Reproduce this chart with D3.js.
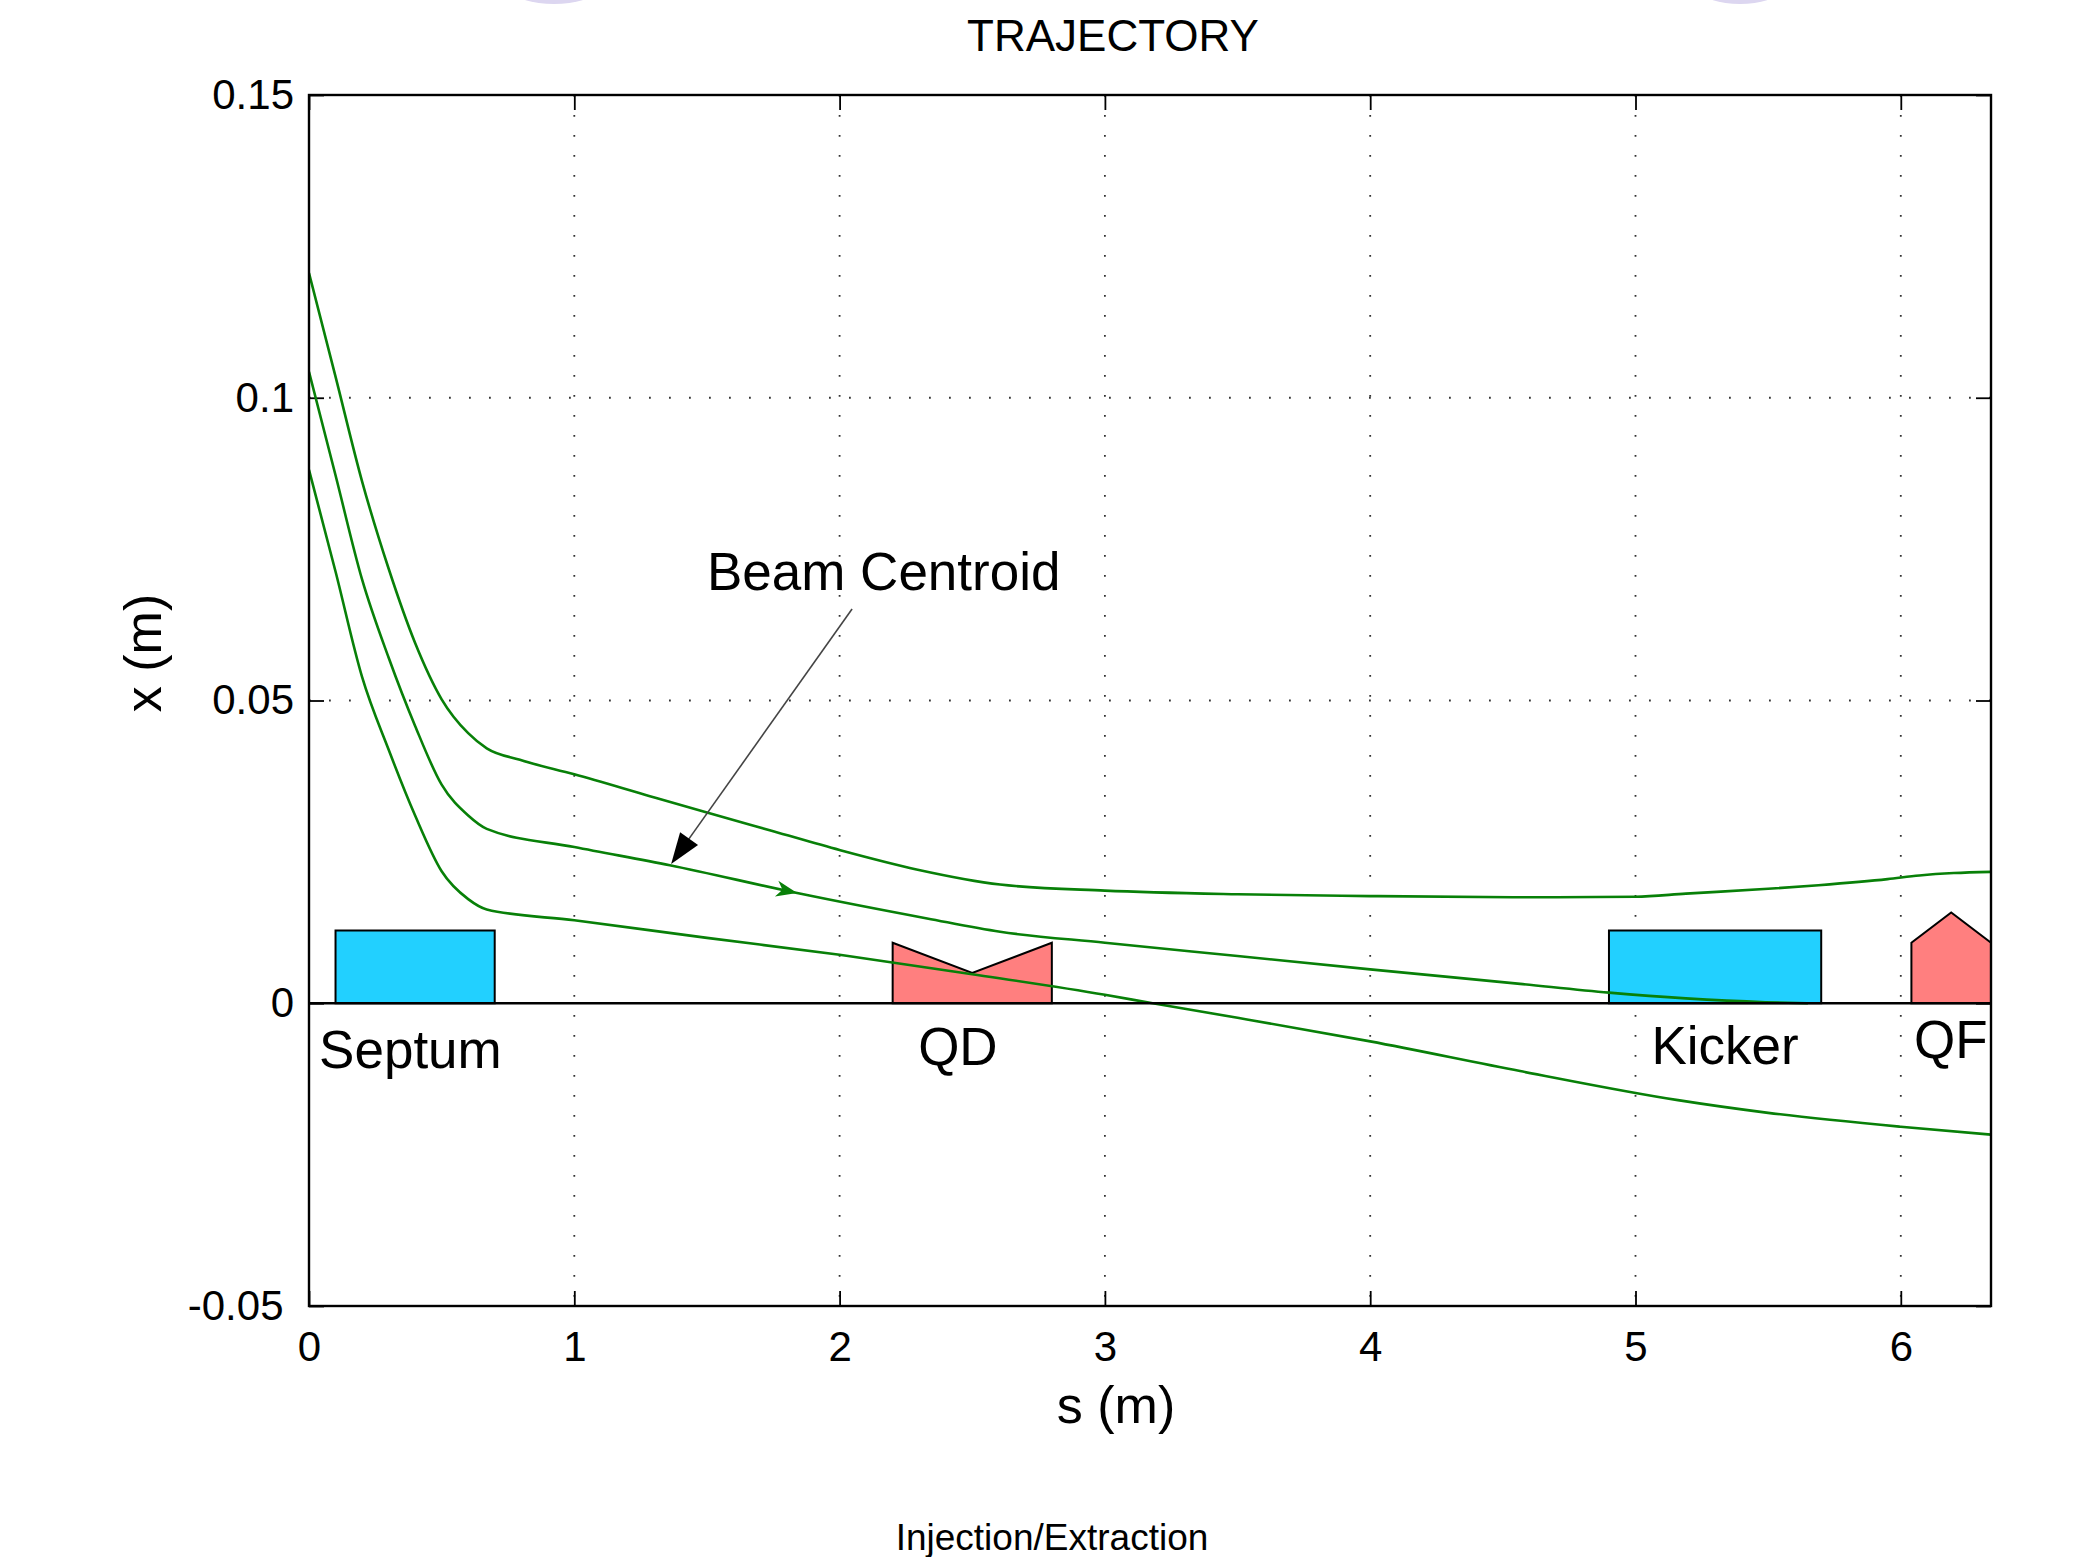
<!DOCTYPE html>
<html>
<head>
<meta charset="utf-8">
<script src="https://cdn.jsdelivr.net/npm/d3@7"></script>
<style>
  body { margin: 0; background: #fff; }
  svg { display: block; font-family: "Liberation Sans", Arial, Helvetica, sans-serif; }
  .grid line { stroke: #333; stroke-width: 1.8; stroke-dasharray: 1.8, 18.2; }
  .axis path { display: none; }
  .axis line { stroke: #000; stroke-width: 1.8; }
  .axis text { font-size: 42px; fill: #000; font-family: "Liberation Sans", Arial, sans-serif; }
  .traj { fill: none; stroke: #088008; stroke-width: 2.6; stroke-linejoin: round; }
</style>
</head>
<body>
<svg width="2078" height="1557"></svg>
<script>
// trajectories, s (m) vs x (m)
var upperS = [0, 0.1, 0.2, 0.3, 0.4, 0.5, 0.6, 0.67, 0.795, 1.0, 1.285, 1.5, 1.75, 2.0, 2.29, 2.605, 3.0, 3.5, 4.0, 4.565, 5.0, 5.19, 5.5, 5.69, 5.95, 6.07, 6.2, 6.34];
var upperX = [0.1206, 0.1035, 0.0862, 0.0718, 0.0595, 0.0502, 0.0446, 0.0421, 0.0402, 0.0378, 0.0342, 0.0315, 0.0284, 0.0253, 0.0221, 0.0196, 0.0186, 0.0180, 0.0177, 0.0175, 0.0176, 0.0181, 0.0189, 0.0195, 0.0205, 0.0211, 0.0215, 0.0217];

var centroidS = [0, 0.1, 0.2, 0.3, 0.4, 0.5, 0.6, 0.67, 1.0, 1.36, 1.84, 2.33, 2.605, 3.0, 3.5, 4.0, 4.565, 4.9, 5.19, 5.49, 5.65];
var centroidX = [0.1043, 0.0872, 0.0700, 0.0571, 0.0458, 0.0361, 0.0310, 0.0288, 0.0258, 0.0228, 0.0182, 0.0140, 0.0118, 0.0100, 0.0078, 0.0056, 0.0032, 0.00175, 0.0008, 0.00017, 0];

var lowerS = [0, 0.1, 0.2, 0.3, 0.4, 0.5, 0.6, 0.67, 1.0, 1.5, 2.0, 2.5, 3.0, 3.18, 3.5, 4.0, 4.565, 5.16, 5.5, 6.0, 6.34];
var lowerX = [0.0881, 0.0713, 0.0539, 0.0419, 0.0310, 0.0218, 0.0172, 0.0155, 0.0137, 0.0108, 0.0080, 0.0048, 0.0014, 0, -0.0024, -0.0063, -0.0112, -0.0160, -0.0181, -0.0204, -0.0217];

// beamline elements
var elemNames = ["Septum", "QD", "Kicker", "QF"];
var elemStart = [0.1, 2.2, 4.9, 6.04];
var elemEnd = [0.7, 2.8, 5.7, 6.34];
var elemEdge = [0.012, 0.01, 0.012, 0.01];
var elemMid = [0.012, 0.005, 0.012, 0.015];
var elemKind = ["kick", "quad", "kick", "quad"];
var labelS = [0.038, 2.296, 5.06, 6.05];
var labelX = [-0.0107, -0.0102, -0.0100, -0.0090];

// ticks
var xTicks = [0, 1, 2, 3, 4, 5, 6];
var yTicks = [-0.05, 0, 0.05, 0.1, 0.15];
var yTickLabels = ["-0.05", "0", "0.05", "0.1", "0.15"];
var xGrid = [1, 2, 3, 4, 5, 6];
var yGrid = [0.05, 0.1];

// annotation
var noteText = "Beam Centroid";
var noteAt = [1.5, 0.0683];
var noteFrom = [2.047, 0.0651];
var noteTo = [1.365, 0.0230];
var flowArrowS = 1.84;

var svg = d3.select("svg"),
  width = +svg.attr("width"),
  height = +svg.attr("height"),
  margin = {top: 95, right: 87, bottom: 251, left: 309},
  w = width - margin.left - margin.right,
  h = height - margin.top - margin.bottom;

// faint logo remnants at the top edge
svg.append("ellipse").attr("cx", 554).attr("cy", -9).attr("rx", 40).attr("ry", 13).attr("fill", "#dcd6f0");
svg.append("ellipse").attr("cx", 1740).attr("cy", -9).attr("rx", 38).attr("ry", 13).attr("fill", "#dcd6f0");

var x = d3.scaleLinear().domain([0, 6.34]).range([0, w]);
var y = d3.scaleLinear().domain([-0.05, 0.15]).range([h, 0]);

var g = svg.append("g").attr("transform", "translate(" + margin.left + "," + margin.top + ")");

g.append("clipPath").attr("id", "clip")
  .append("rect").attr("width", w).attr("height", h);

// dotted grid
var grid = g.append("g").attr("class", "grid");
grid.selectAll(".gx").data(xGrid).enter().append("line")
  .attr("x1", function(d) { return x(d); }).attr("x2", function(d) { return x(d); })
  .attr("y1", 0).attr("y2", h);
grid.selectAll(".gy").data(yGrid).enter().append("line")
  .attr("y1", function(d) { return y(d); }).attr("y2", function(d) { return y(d); })
  .attr("x1", 0).attr("x2", w);

// axes, ticks pointing inward on all four sides
g.append("g").attr("class", "axis").attr("transform", "translate(0," + h + ")")
  .call(d3.axisBottom(x).tickValues(xTicks).tickFormat(d3.format("d")).tickSize(-15).tickPadding(25));
g.append("g").attr("class", "axis")
  .call(d3.axisTop(x).tickValues(xTicks).tickFormat("").tickSize(-15));
g.append("g").attr("class", "axis")
  .call(d3.axisLeft(y).tickValues(yTicks)
    .tickFormat(function(d, i) { return yTickLabels[i]; })
    .tickSize(-15).tickPadding(15))
  .selectAll("text")
  .attr("dx", function(d) { return d < 0 ? "-0.25em" : null; });
g.append("g").attr("class", "axis").attr("transform", "translate(" + w + ",0)")
  .call(d3.axisRight(y).tickValues(yTicks).tickFormat("").tickSize(-15));

var plot = g.append("g").attr("clip-path", "url(#clip)");

// beamline elements
var elems = elemNames.map(function(n, i) {
  return {
    name: n, kind: elemKind[i],
    pts: [[elemStart[i], 0], [elemStart[i], elemEdge[i]],
          [(elemStart[i] + elemEnd[i]) / 2, elemMid[i]],
          [elemEnd[i], elemEdge[i]], [elemEnd[i], 0]]
  };
});

plot.selectAll(".elem").data(elems).enter().append("polygon")
  .attr("class", "elem")
  .attr("points", function(d) {
    return d.pts.map(function(p) { return x(p[0]) + "," + y(p[1]); }).join(" ");
  })
  .attr("fill", function(d) { return d.kind == "kick" ? "#22d0ff" : "#ff7f7f"; })
  .attr("stroke", "#000")
  .attr("stroke-width", 2)
  .attr("stroke-linejoin", "miter");

// trajectories
var line = d3.line()
  .x(function(d) { return x(d[0]); })
  .y(function(d) { return y(d[1]); })
  .curve(d3.curveMonotoneX);

[[upperS, upperX], [centroidS, centroidX], [lowerS, lowerX]].forEach(function(c) {
  plot.append("path")
    .attr("class", "traj")
    .attr("d", line(d3.zip(c[0], c[1])));
});

// beamline axis (x = 0)
plot.append("line")
  .attr("x1", 0).attr("x2", w)
  .attr("y1", y(0)).attr("y2", y(0))
  .attr("stroke", "#000").attr("stroke-width", 2.4);

// small direction arrow on the centroid
var centroidAt = d3.scaleLinear().domain(centroidS).range(centroidX);
var tx = x(flowArrowS), ty = y(centroidAt(flowArrowS));
var bx = x(flowArrowS - 0.07), by = y(centroidAt(flowArrowS - 0.07));
var ang = Math.atan2(ty - by, tx - bx) * 180 / Math.PI;
plot.append("path")
  .attr("d", "M0,0 L-21,-8 L-15,0 L-21,8 Z")
  .attr("transform", "translate(" + tx + "," + ty + ") rotate(" + ang + ")")
  .attr("fill", "#088008");

// frame
g.append("rect").attr("width", w).attr("height", h)
  .attr("fill", "none").attr("stroke", "#000").attr("stroke-width", 2.4);

// element labels
g.selectAll(".elabel").data(elemNames).enter().append("text")
  .attr("class", "elabel")
  .attr("x", function(d, i) { return x(labelS[i]); })
  .attr("y", function(d, i) { return y(labelX[i]); })
  .attr("font-size", 53)
  .text(function(d) { return d; });

// annotation with arrow
var ax0 = x(noteFrom[0]), ay0 = y(noteFrom[1]);
var ax1 = x(noteTo[0]), ay1 = y(noteTo[1]);
var len = Math.hypot(ax1 - ax0, ay1 - ay0);
var ux = (ax1 - ax0) / len, uy = (ay1 - ay0) / len;
g.append("line")
  .attr("x1", ax0).attr("y1", ay0)
  .attr("x2", ax1 - 28 * ux).attr("y2", ay1 - 28 * uy)
  .attr("stroke", "#444").attr("stroke-width", 1.6);
g.append("path")
  .attr("d", "M0,0 L-31,-11 L-31,11 Z")
  .attr("transform", "translate(" + ax1 + "," + ay1 + ") rotate(" + (Math.atan2(uy, ux) * 180 / Math.PI) + ")")
  .attr("fill", "#000");
g.append("text")
  .attr("x", x(noteAt[0])).attr("y", y(noteAt[1]))
  .attr("font-size", 53)
  .text(noteText);

// titles
svg.append("text")
  .attr("x", 1113).attr("y", 51)
  .attr("text-anchor", "middle").attr("font-size", 44)
  .text("TRAJECTORY");

svg.append("text")
  .attr("x", 1116).attr("y", 1423)
  .attr("text-anchor", "middle").attr("font-size", 52)
  .text("s (m)");

svg.append("text")
  .attr("transform", "translate(161,653) rotate(-90)")
  .attr("text-anchor", "middle").attr("font-size", 52)
  .text("x (m)");

svg.append("text")
  .attr("x", 1052).attr("y", 1550)
  .attr("text-anchor", "middle").attr("font-size", 37)
  .text("Injection/Extraction");
</script>
</body>
</html>
